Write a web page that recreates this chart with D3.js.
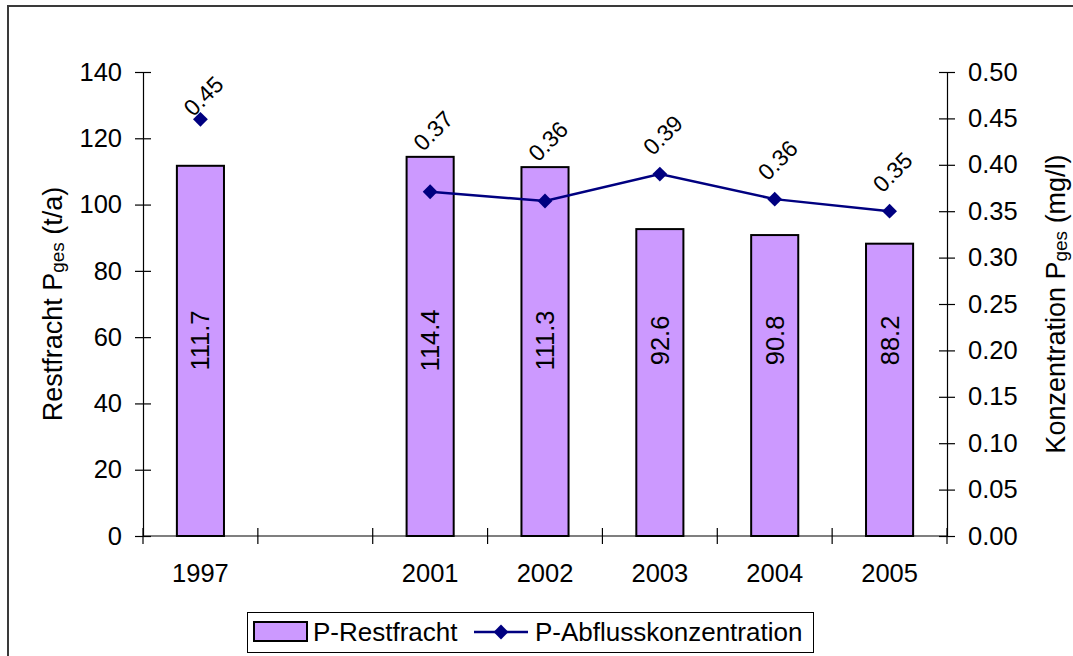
<!DOCTYPE html>
<html>
<head>
<meta charset="utf-8">
<script src="https://cdn.jsdelivr.net/npm/d3@7"></script>
<style>
  html, body { margin: 0; padding: 0; background: #fff; }
  svg { display: block; font-family: "Liberation Sans", Arial, sans-serif; }
</style>
</head>
<body>
<svg id="chart" width="1073" height="656"></svg>
<script>
// Years on the category axis (one empty slot between 1997 and 2001)
const years = ["1997", "", "2001", "2002", "2003", "2004", "2005"];
// Residual phosphorus load, t/a
const restfracht = [111.7, null, 114.4, 111.3, 92.6, 90.8, 88.2];
// Phosphorus runoff concentration, mg/l
const konzentration = [0.449, null, 0.371, 0.361, 0.390, 0.363, 0.350];
// Axis ticks
const leftTicks = [0, 20, 40, 60, 80, 100, 120, 140];
const rightTicks = [0, 0.05, 0.10, 0.15, 0.20, 0.25, 0.30, 0.35, 0.40, 0.45, 0.50];

const svg = d3.select("#chart");
const plot = { left: 143, right: 947, top: 72, bottom: 536 };
const FS = 25.5;

// outer chart frame (only top and left edges fall inside the view)
svg.append("path")
  .attr("d", "M8,656 L8,6 L1073,6")
  .attr("fill", "none").attr("stroke", "#3a3a3a").attr("stroke-width", 2);

const x = d3.scaleBand().domain(d3.range(years.length))
  .range([plot.left, plot.right]).paddingInner(0).paddingOuter(0);
const yL = d3.scaleLinear().domain([0, 140]).range([plot.bottom, plot.top]);
const yR = d3.scaleLinear().domain([0, 0.5]).range([plot.bottom, plot.top]);

// Left axis
const axL = svg.append("g").attr("transform", `translate(${plot.left},0)`)
  .call(d3.axisLeft(yL).tickValues(leftTicks).tickSize(0).tickPadding(21).tickFormat(d3.format("d")));
axL.select(".domain").attr("stroke", "#000").attr("stroke-width", 1.2);
axL.selectAll(".tick line").remove();
axL.selectAll(".tick").append("line")
  .attr("x1", -8).attr("x2", 8).attr("stroke", "#000").attr("stroke-width", 1.2);
axL.selectAll("text").attr("font-size", FS).attr("fill", "#000").attr("font-family", null);

// Right axis
const axR = svg.append("g").attr("transform", `translate(${plot.right},0)`)
  .call(d3.axisRight(yR).tickValues(rightTicks).tickSize(0).tickPadding(21).tickFormat(d3.format(".2f")));
axR.select(".domain").attr("stroke", "#000").attr("stroke-width", 1.2);
axR.selectAll(".tick line").remove();
axR.selectAll(".tick").append("line")
  .attr("x1", -8).attr("x2", 8).attr("stroke", "#000").attr("stroke-width", 1.2);
axR.selectAll("text").attr("font-size", FS).attr("fill", "#000").attr("font-family", null);

// Category axis with ticks between categories
const axB = svg.append("g").attr("transform", `translate(0,${plot.bottom})`);
axB.append("line").attr("x1", plot.left).attr("x2", plot.right)
  .attr("stroke", "#000").attr("stroke-width", 1.2);
const bounds = d3.range(years.length + 1).map(i => plot.left + i * x.bandwidth());
axB.selectAll("line.tk").data(bounds).join("line").attr("class", "tk")
  .attr("x1", d => d).attr("x2", d => d).attr("y1", -8).attr("y2", 8)
  .attr("stroke", "#000").attr("stroke-width", 1.2);
axB.selectAll("text").data(years).join("text")
  .attr("x", (d, i) => x(i) + x.bandwidth() / 2).attr("y", 46)
  .attr("text-anchor", "middle").attr("font-size", FS).text(d => d);

// Bars
const barW = x.bandwidth() * 0.41;
const barData = restfracht.map((v, i) => ({ i, v })).filter(d => d.v != null);
svg.append("g").selectAll("rect").data(barData).join("rect")
  .attr("x", d => x(d.i) + (x.bandwidth() - barW) / 2)
  .attr("y", d => yL(d.v))
  .attr("width", barW)
  .attr("height", d => yL(0) - yL(d.v))
  .attr("fill", "#CC99FF").attr("stroke", "#000").attr("stroke-width", 2);

// Bar value labels, vertical
svg.append("g").selectAll("text").data(barData).join("text")
  .attr("transform", d => `translate(${x(d.i) + x.bandwidth() / 2 + 9},${yL(59)}) rotate(-90)`)
  .attr("text-anchor", "middle").attr("font-size", FS).text(d => d.v.toFixed(1));

// Concentration line (broken at the empty slot)
const cx = i => x(i) + x.bandwidth() / 2;
const line = d3.line().defined(d => d != null).x((d, i) => cx(i)).y(d => yR(d));
svg.append("path").datum(konzentration)
  .attr("d", line).attr("fill", "none").attr("stroke", "#000080").attr("stroke-width", 2.5);

const ptData = konzentration.map((v, i) => ({ i, v })).filter(d => d.v != null);
const diamond = d3.symbol().type(d3.symbolSquare).size(110);
svg.append("g").selectAll("path").data(ptData).join("path")
  .attr("d", diamond)
  .attr("transform", d => `translate(${cx(d.i)},${yR(d.v)}) rotate(45)`)
  .attr("fill", "#000080");

// Concentration labels at 45°, kept clear of the bars and inside the plot
svg.append("g").selectAll("text").data(ptData).join("text")
  .attr("transform", d => {
    const py = yR(d.v);
    const barTop = restfracht[d.i] != null ? yL(restfracht[d.i]) : plot.bottom;
    let cy = py - 39;
    if (cy + 18 > barTop - 8 && py > barTop) cy = barTop - 26;
    cy = Math.max(cy, plot.top + 24);
    return `translate(${cx(d.i) + 3},${cy}) rotate(-45)`;
  })
  .attr("text-anchor", "middle").attr("dy", "0.35em")
  .attr("font-size", 23).text(d => d.v.toFixed(2));

// Axis titles
function title(xp, yp, main, sub, rest) {
  const t = svg.append("text")
    .attr("transform", `translate(${xp},${yp}) rotate(-90)`)
    .attr("text-anchor", "middle").attr("font-size", 27);
  t.append("tspan").text(main);
  t.append("tspan").attr("font-size", 19).attr("dy", 2).text(sub);
  t.append("tspan").attr("dy", -2).text(rest);
}
title(62, 304, "Restfracht P", "ges", " (t/a)");
title(1065, 304, "Konzentration P", "ges", " (mg/l)");

// Legend
const lg = svg.append("g");
lg.append("rect").attr("x", 247.5).attr("y", 612.5).attr("width", 566).attr("height", 40)
  .attr("fill", "#fff").attr("stroke", "#000").attr("stroke-width", 1);
lg.append("rect").attr("x", 254).attr("y", 622).attr("width", 53).attr("height", 19)
  .attr("fill", "#CC99FF").attr("stroke", "#000").attr("stroke-width", 2);
lg.append("text").attr("x", 313).attr("y", 641).attr("font-size", 26).text("P-Restfracht");
lg.append("line").attr("x1", 474).attr("x2", 528).attr("y1", 632).attr("y2", 632)
  .attr("stroke", "#000080").attr("stroke-width", 2.5);
lg.append("path").attr("d", diamond).attr("transform", "translate(501,632) rotate(45)")
  .attr("fill", "#000080");
lg.append("text").attr("x", 535).attr("y", 641).attr("font-size", 26).text("P-Abflusskonzentration");
</script>
</body>
</html>
